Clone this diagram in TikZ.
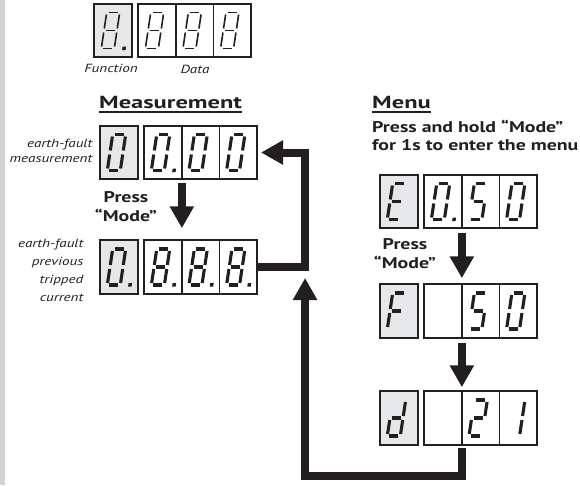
\documentclass[tikz,border=0pt]{standalone}
\usepackage{fontspec}
\setmainfont{PT Sans}[FakeStretch=1.28]
\newfontfamily\headfont{PT Sans}[FakeStretch=1.4]
\usetikzlibrary{positioning,arrows.meta}
\definecolor{ink}{HTML}{231F20}
\definecolor{panelgrey}{HTML}{E6E7E8}
\definecolor{stripgrey}{HTML}{D1D3D4}

\tikzset{
  cell/.style={draw=ink, line width=1.8pt, minimum width=37.6pt, minimum height=53.5pt, inner sep=0pt, outer sep=0pt},
  funccell/.style={cell, fill=panelgrey, minimum width=38.5pt},
  segline/.style={draw=ink, line width=3.1pt},
  seg a/.style={insert path={(-4.5,-18) -- (4.5,-18)}},
  seg b/.style={insert path={(6.5,-16) -- (6.5,-2)}},
  seg c/.style={insert path={(6.5,2) -- (6.5,16)}},
  seg d/.style={insert path={(-4.5,18) -- (4.5,18)}},
  seg e/.style={insert path={(-6.5,2) -- (-6.5,16)}},
  seg f/.style={insert path={(-6.5,-16) -- (-6.5,-2)}},
  seg g/.style={insert path={(-4.5,0) -- (4.5,0)}},
  flow/.style={draw=ink, line width=8pt, -{Triangle[width=23pt,length=22pt]}},
  heading/.style={font=\headfont\fontsize{17.5}{20}\selectfont\bfseries, text=ink, inner sep=0pt, anchor=base west},
  note/.style={font=\fontsize{15.5}{18}\selectfont\bfseries, text=ink, inner sep=0pt},
  sidetext/.style={font=\fontsize{11.8}{15}\selectfont\itshape, text=ink, inner sep=0pt}
}

% seven-segment digit inside a cell: cell, segments, dot
\newcommand{\digitin}[3]{%
  \begin{scope}[shift={([xshift=-2.5pt]#1.center)}, xslant=0.15]
    \foreach \s in {#2} {\edef\segcmd{\noexpand\draw[segline, seg \s];}\segcmd}
    \ifx\relax#3\relax\else\fill[ink] (14.5,16) rectangle (18,19.5);\fi
  \end{scope}}

\begin{document}
\begin{tikzpicture}[x=1pt, y=-1pt]
\useasboundingbox (0,0) rectangle (580,485);
\fill[stripgrey] (0,0) rectangle (4.5,485);

% legend display
\node[funccell] (tf) at (113,30.5) {};
\node[cell, right=6pt of tf] (ta) {};
\node[cell, right=0pt of ta] (tb) {};
\node[cell, right=0pt of tb] (tc) {};
\begin{scope}[segline/.style={draw=ink, line width=1.6pt}]
  \digitin{tf}{a,b,c,d,e,f,g}{.}
  \digitin{ta}{a,b,c,d,e,f,g}{}
  \digitin{tb}{a,b,c,d,e,f,g}{}
  \digitin{tc}{a,b,c,d,e,f,g}{}
\end{scope}
\node[sidetext] (functxt) at (111,68) {Function};
\node[sidetext] (datatxt) at (195,69) {Data};

% measurement
\node[heading] (meashead) at (99,108) {Measurement};
\draw[ink, line width=2.6pt] ([yshift=-3.8pt]meashead.base west) -- ([yshift=-3.8pt]meashead.base east);

\node[funccell] (mf) at (119,152.5) {};
\node[cell, right=6pt of mf] (ma) {};
\node[cell, right=0pt of ma] (mb) {};
\node[cell, right=0pt of mb] (mc) {};
\digitin{mf}{a,b,c,d,e,f}{}
\digitin{ma}{a,b,c,d,e,f}{.}
\digitin{mb}{a,b,c,d,e,f}{}
\digitin{mc}{a,b,c,d,e,f}{}
\node[sidetext, align=right, anchor=north east] (meastxt) at (92.5,139) {earth-fault\\measurement};

\node[note, align=center, anchor=north, font=\fontsize{15.5}{19.5}\selectfont\bfseries] (measpress) at (126,191) {Press\\“Mode”};

\node[funccell] (pf) at (119,267) {};
\node[cell, right=6pt of pf] (pa) {};
\node[cell, right=0pt of pa] (pb) {};
\node[cell, right=0pt of pb] (pc) {};
\digitin{pf}{a,b,c,d,e,f}{.}
\digitin{pa}{a,b,c,d,e,f,g}{.}
\digitin{pb}{a,b,c,d,e,f,g}{.}
\digitin{pc}{a,b,c,d,e,f,g}{.}
\node[sidetext, align=right, anchor=north east, font=\fontsize{11.8}{18}\selectfont\itshape] (prevtxt) at (83.5,239) {earth-fault\\previous\\tripped\\current};

\draw[flow] ([yshift=-4pt]ma.south east) -- ([yshift=12pt]pa.north east);
\draw[flow] (pc.east) -- ++(48,0) |- ([xshift=4pt]mc.east);

% menu
\node[heading] (menuhead) at (372,108) {Menu};
\draw[ink, line width=2.6pt] ([yshift=-3.8pt]menuhead.base west) -- ([yshift=-3.8pt]menuhead.base east);
\node[note, align=left, anchor=north west] (menunote) at (372,120) {Press and hold “Mode”\\for 1s to enter the menu};

\node[funccell] (ef) at (399,201.5) {};
\node[cell, right=6pt of ef] (ea) {};
\node[cell, right=0pt of ea] (eb) {};
\node[cell, right=0pt of eb] (ec) {};
\digitin{ef}{a,d,e,f,g}{}
\digitin{ea}{a,b,c,d,e,f}{.}
\digitin{eb}{a,c,d,f,g}{}
\digitin{ec}{a,b,c,d,e,f}{}

\node[note, align=center, anchor=north, font=\fontsize{15.5}{19.5}\selectfont\bfseries] (menupress) at (405,238) {Press\\“Mode”};

\node[funccell] (ff) at (399,311) {};
\node[cell, right=6pt of ff] (fa) {};
\node[cell, right=0pt of fa] (fb) {};
\node[cell, right=0pt of fb] (fc) {};
\digitin{ff}{a,e,f,g}{}
\digitin{fb}{a,c,d,f,g}{}
\digitin{fc}{a,b,c,d,e,f}{}

\node[funccell] (df) at (399,418) {};
\node[cell, right=6pt of df] (da) {};
\node[cell, right=0pt of da] (db) {};
\node[cell, right=0pt of db] (dc) {};
\digitin{df}{b,c,d,e,g}{}
\digitin{db}{a,b,d,e,g}{}
\digitin{dc}{b,c}{}

\draw[flow] ([yshift=-5pt]ea.south east) -- ([yshift=6pt]fa.north east);
\draw[flow] ([yshift=-5pt]fa.south east) -- ([yshift=4pt]da.north east);
\draw[flow] ([yshift=-3pt]da.south east) -- ++(0,28) -| ([xshift=48pt,yshift=-11pt]pc.east);
\end{tikzpicture}
\end{document}
